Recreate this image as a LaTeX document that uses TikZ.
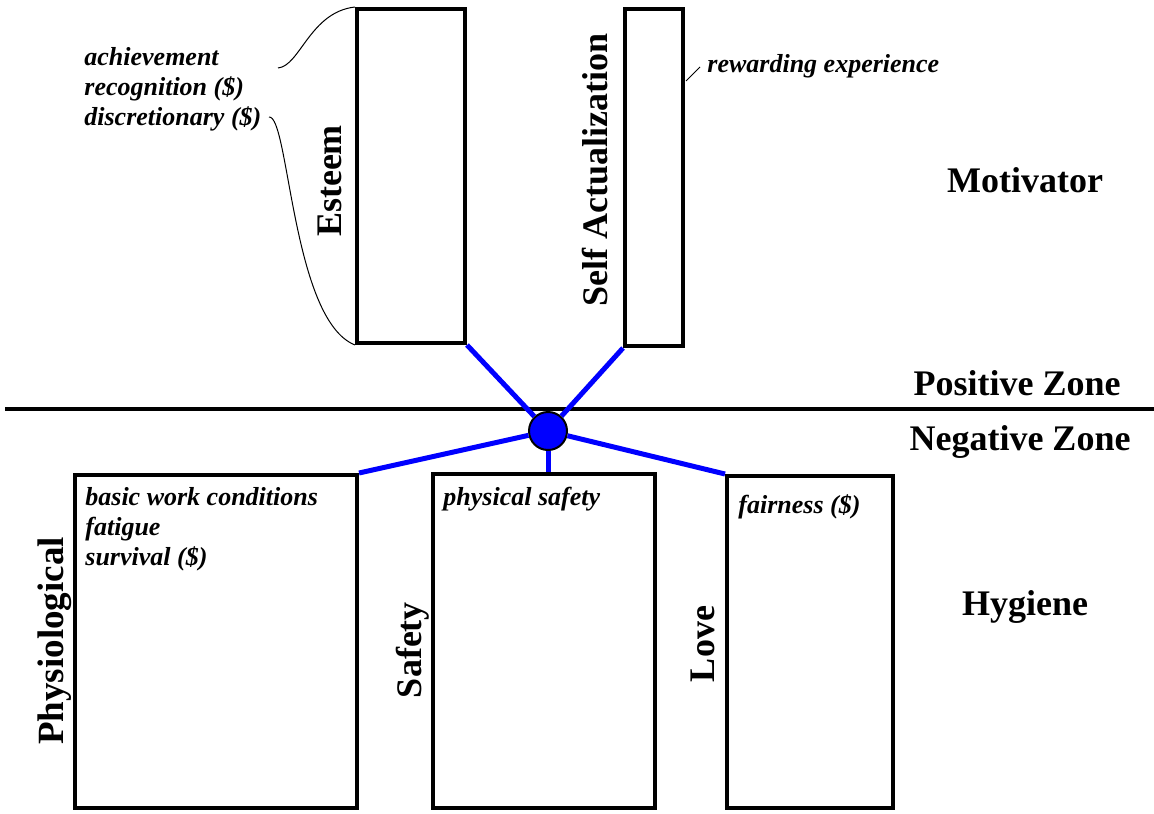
\documentclass[tikz,border=0pt]{standalone}
\usepackage{fontspec}
\setmainfont{Liberation Serif}
\begin{document}
\begin{tikzpicture}[x=0.5pt, y=-0.5pt]
\tikzstyle{need} = [draw, line width=2pt, inner sep=0pt];
\tikzstyle{hub} = [draw, circle, fill=blue, line width=1pt, minimum size=19pt, inner sep=0pt];
\tikzstyle{link} = [blue, line width=2.5pt];
\tikzstyle{title} = [font=\bfseries\fontsize{18}{21}\selectfont, inner sep=0pt];
\tikzstyle{note} = [font=\bfseries\itshape\fontsize{13}{15}\selectfont, align=left, anchor=base west, inner sep=0pt];
\tikzstyle{brace} = [line width=0.5pt];
\useasboundingbox (0,0) rectangle (1154,813);
\node[need, minimum width=54pt, minimum height=167pt] (esteem) at (411,176) {};
\node[need, minimum width=29pt, minimum height=168.5pt] (selfact) at (654,177.5) {};
\node[need, minimum width=141pt, minimum height=166.5pt] (phys) at (216,641.5) {};
\node[need, minimum width=111pt, minimum height=167pt] (safety) at (544,641) {};
\node[need, minimum width=83pt, minimum height=166pt] (love) at (810,642) {};
\coordinate (zl) at (5,409);
\coordinate (zr) at (1154,409);
\draw[line width=2pt] (zl) -- (zr);
\node[hub] (h) at (548,431) {};
\draw[link] (esteem.south east) -- (h);
\draw[link] (selfact.south west) -- (h);
\draw[link] (h) -- (phys.north east);
\draw[link] (h) -- (h |- safety.north);
\draw[link] (h) -- (love.north west);
\node[title, rotate=90] (esteemlbl) at (330,181) {Esteem};
\node[title, rotate=90] (selfactlbl) at (595,170) {Self Actualization};
\node[title, rotate=90, font=\bfseries\fontsize{18.5}{22}\selectfont] (physlbl) at (55,641) {Physiological};
\node[title, rotate=90] (safetylbl) at (413,650) {Safety};
\node[title, rotate=90] (lovelbl) at (703,644) {Love};
\node[title] (motivator) at (1025,180) {Motivator};
\node[title, anchor=base] (pos) at (1017,395) {Positive Zone};
\node[title, anchor=base] (neg) at (1020,450) {Negative Zone};
\node[title] (hygiene) at (1025,607) {Hygiene};
\node[note, anchor=north west] (esteemnote) at (84,47) {achievement\\recognition (\$)\\discretionary (\$)};
\node[note] (selfactnote) at (707,73) {rewarding experience};
\node[note, anchor=north west] (physnote) at (85,487) {basic work conditions\\fatigue\\survival (\$)};
\node[note] (safetynote) at (443,505) {physical safety};
\node[note] (lovenote) at (738,513) {fairness (\$)};
\draw[brace] (278,68) .. controls (300,66) and (310,12) .. (esteem.north west);
\draw[brace] (269,117) .. controls (289,115) and (292,320) .. (esteem.south west);
\draw[brace] (686,81) -- (700,67);
\end{tikzpicture}
\end{document}
